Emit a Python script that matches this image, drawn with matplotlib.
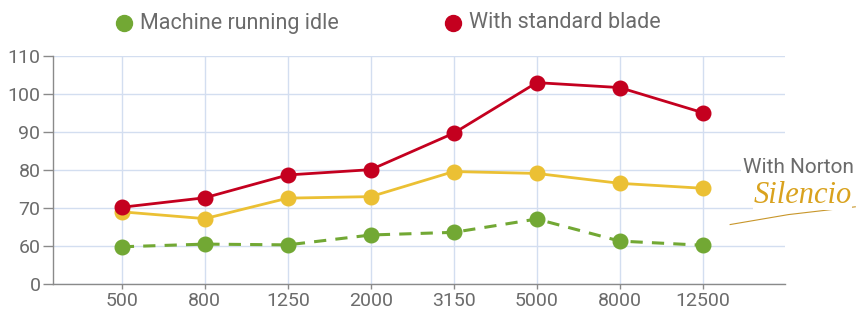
import matplotlib
matplotlib.use("Agg")
import matplotlib.pyplot as plt
from matplotlib.lines import Line2D

# data
freqs = ["500", "800", "1250", "2000", "3150", "5000", "8000", "12500"]
idle = [59.8, 60.5, 60.3, 62.9, 63.6, 67.1, 61.3, 60.2]
standard = [70.2, 72.7, 78.7, 80.1, 89.7, 103.0, 101.7, 95.1]
silencio = [69.0, 67.2, 72.6, 73.0, 79.6, 79.1, 76.5, 75.2]
y_ticks = [0, 60, 70, 80, 90, 100, 110]

RED = "#c4001f"
YELLOW = "#ebc034"
GREEN = "#72a834"
GRID = "#d3def0"
TXT = "#6b6b6b"

plt.rcParams["font.family"] = ["Roboto", "DejaVu Sans"]


def to_axis(v):  # broken axis: 0 sits one step below 60
    return 0 if v == 0 else v - 50


fig = plt.figure(figsize=(8.57, 3.11), dpi=100)
ax = fig.add_axes([0.0618, 0.0868, 0.854, 0.733])

x = list(range(len(freqs)))
ax.plot(x, [to_axis(v) for v in idle], color=GREEN, lw=2.2, ls=(0, (4, 3)),
        marker="o", ms=10.5, zorder=3)
ax.plot(x, [to_axis(v) for v in silencio], color=YELLOW, lw=2.0,
        marker="o", ms=10.5, zorder=3)
ax.plot(x, [to_axis(v) for v in standard], color=RED, lw=2.0,
        marker="o", ms=10.5, zorder=4)

ax.set_xlim(-0.83, 7.99)
ax.set_ylim(0, 60)
ax.set_xticks(x)
ax.set_xticklabels(freqs)
ax.set_yticks([to_axis(v) for v in y_ticks])
ax.set_yticklabels([str(v) for v in y_ticks])

ax.grid(True, color=GRID, lw=1.0, zorder=0)
ax.set_axisbelow(True)
for s in ["top", "right"]:
    ax.spines[s].set_visible(False)
for s in ["left", "bottom"]:
    ax.spines[s].set_color("#8a8a8a")
    ax.spines[s].set_linewidth(1.0)
ax.tick_params(axis="both", colors="#8a8a8a", labelcolor=TXT, labelsize=14,
               width=1.0)
ax.tick_params(axis="y", length=7, pad=2)
ax.tick_params(axis="x", length=3.5, pad=2)

# legend, placed by hand at the top
legend_items = [("Machine running idle", GREEN, 123.5, 140),
                ("With standard blade", RED, 453, 469)]
ly = 1 - 23 / 311
for label, col, dot_x, text_x in legend_items:
    fig.add_artist(Line2D([dot_x / 857], [ly], transform=fig.transFigure,
                          color=col, marker="o", ms=11.5, ls="none"))
    fig.text(text_x / 857, ly, label, ha="left", va="center",
             fontsize=15.5, color=TXT)

# Norton Silencio label
fig.text(0.996, 0.46, "With Norton", ha="right", va="center", fontsize=15,
         color=TXT, bbox=dict(facecolor="white", edgecolor="none", pad=1))
fig.text(0.994, 0.372, "Silencio", ha="right", va="center", fontsize=22,
         family="Liberation Serif", style="italic", color="#d9a21e",
         bbox=dict(facecolor="white", edgecolor="none", pad=0.5))
fig.add_artist(Line2D([0.852, 0.92, 0.998], [0.278, 0.31, 0.335],
                      transform=fig.transFigure, color="#c8962a", lw=0.8))

fig.savefig("out.png", dpi=100)
